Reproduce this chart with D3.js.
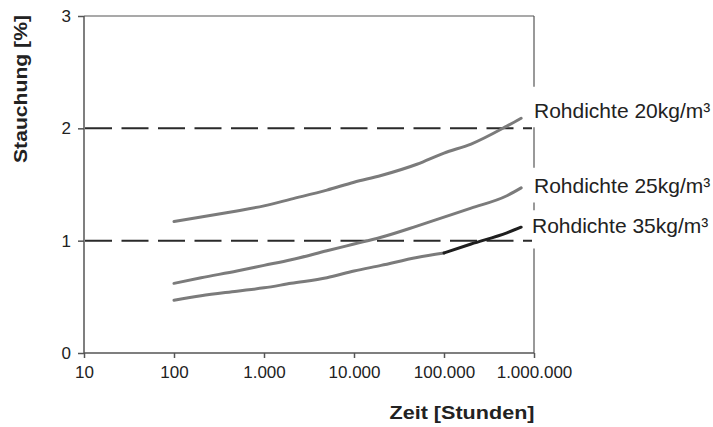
<!DOCTYPE html>
<html>
<head>
<meta charset="utf-8">
<script src="https://cdn.jsdelivr.net/npm/d3@7"></script>
<style>
    body { margin: 0; background: #fff; }
    text { font-family: "Liberation Sans", Arial, sans-serif; fill: #222; }
</style>
</head>
<body>
<svg id="chart" width="713" height="427"></svg>
<script>
// Werte
const zeit = [100, 200, 500, 1000, 2000, 5000, 10000, 20000, 50000, 100000, 200000, 500000, 720000];
const rd20 = [1.17, 1.21, 1.265, 1.31, 1.37, 1.45, 1.52, 1.58, 1.68, 1.78, 1.86, 2.02, 2.09];
const rd25 = [0.62, 0.67, 0.73, 0.78, 0.83, 0.91, 0.97, 1.03, 1.13, 1.21, 1.29, 1.40, 1.47];
const rd35 = [0.47, 0.51, 0.55, 0.58, 0.62, 0.67, 0.73, 0.78, 0.85, 0.89, 0.97, 1.07, 1.12];
const labels = ["Rohdichte 20kg/m³", "Rohdichte 25kg/m³", "Rohdichte 35kg/m³"];
const xTicks = [10, 100, 1000, 10000, 100000, 1000000];
const yTicks = [0, 1, 2, 3];
const gridValues = [1, 2];

const svg = d3.select("#chart");
const margin = {left: 84, right: 180, top: 16, bottom: 74};
const width = 713, height = 427;

const x = d3.scaleLog().domain([10, 1000000]).range([margin.left, width - margin.right + 1]);
const y = d3.scaleLinear().domain([0, 3]).range([height - margin.bottom, margin.top]);

const de = d3.formatLocale({decimal: ",", thousands: ".", grouping: [3], currency: ["", "€"]});
const fmt = de.format(",");

// Hilfslinien
svg.append("g")
    .selectAll("line")
    .data(gridValues)
    .join("line")
        .attr("x1", x(10) + 1)
        .attr("x2", x(1000000) - 2)
        .attr("y1", d => y(d))
        .attr("y2", d => y(d))
        .attr("stroke", "#2a2a2a")
        .attr("stroke-width", 2)
        .attr("stroke-dasharray", "27,9.5");

// Achsen
const yAxis = svg.append("g")
    .attr("transform", `translate(${x(10)},0)`)
    .call(d3.axisLeft(y).tickValues(yTicks).tickSize(6).tickPadding(7).tickFormat(d3.format("d")));
const xAxis = svg.append("g")
    .attr("transform", `translate(0,${y(0)})`)
    .call(d3.axisBottom(x).tickValues(xTicks).tickSize(5).tickPadding(8).tickFormat(fmt));

[yAxis, xAxis].forEach(ax => {
    ax.select(".domain").remove();
    ax.selectAll(".tick line").attr("stroke", "#555").attr("stroke-width", 1.5);
    ax.selectAll(".tick text")
        .style("font-family", "'Liberation Sans', Arial, sans-serif")
        .style("font-size", "17px")
        .attr("fill", "#222");
});

// Rahmen
const frame = svg.append("g").attr("stroke", "#555").attr("fill", "none");
frame.append("line")
    .attr("x1", x(10)).attr("x2", x(10))
    .attr("y1", y(3)).attr("y2", y(0))
    .attr("stroke-width", 1.5);
frame.append("line")
    .attr("x1", x(10)).attr("x2", x(1000000))
    .attr("y1", y(0)).attr("y2", y(0))
    .attr("stroke-width", 1.5);
frame.append("line")
    .attr("x1", x(10)).attr("x2", x(1000000))
    .attr("y1", y(3)).attr("y2", y(3))
    .attr("stroke-width", 1.2);
// rechter Rand, durch die Beschriftungen unterbrochen
const rightSegments = [[3, 2.37], [2.01, 1.65], [1.34, 1.27], [0.93, 0]];
frame.selectAll(".rseg")
    .data(rightSegments)
    .join("line")
        .attr("class", "rseg")
        .attr("x1", x(1000000)).attr("x2", x(1000000))
        .attr("y1", d => y(d[0])).attr("y2", d => y(d[1]))
        .attr("stroke-width", 1.2);

// Kurven
const line = d3.line()
    .x(d => x(d[0]))
    .y(d => y(d[1]))
    .curve(d3.curveMonotoneX);

const pairs = vals => zeit.map((t, i) => [t, vals[i]]);
const rd35Pairs = pairs(rd35);
const series = [
    {pts: pairs(rd20), color: "#7b7b7b"},
    {pts: pairs(rd25), color: "#7b7b7b"},
    {pts: rd35Pairs.filter(d => d[0] <= 100000), color: "#7b7b7b"},
    {pts: rd35Pairs.filter(d => d[0] >= 100000), color: "#1e1e1e"},
];

svg.append("g")
    .selectAll("path")
    .data(series)
    .join("path")
        .attr("d", d => line(d.pts))
        .attr("fill", "none")
        .attr("stroke", d => d.color)
        .attr("stroke-width", 3)
        .attr("stroke-linecap", "round");

// Beschriftungen der Kurven (Grundlinie)
const labelY = [2.09, 1.42, 1.07];
svg.append("g")
    .selectAll("text")
    .data(labels)
    .join("text")
        .attr("x", (d, i) => x(1000000) + (i === 2 ? -2 : 0))
        .attr("y", (d, i) => y(labelY[i]))
        .style("font-size", "21px")
        .text(d => d);

// Achsentitel
svg.append("text")
    .attr("transform", `translate(27,${(y(3) + 160) / 2 + 1}) rotate(-90)`)
    .attr("text-anchor", "middle")
    .attr("textLength", 148)
    .attr("lengthAdjust", "spacingAndGlyphs")
    .style("font-size", "18px")
    .style("font-weight", "bold")
    .text("Stauchung [%]");

svg.append("text")
    .attr("x", 462)
    .attr("y", 419)
    .attr("text-anchor", "middle")
    .attr("textLength", 145)
    .attr("lengthAdjust", "spacingAndGlyphs")
    .style("font-size", "18px")
    .style("font-weight", "bold")
    .text("Zeit [Stunden]");
</script>
</body>
</html>
